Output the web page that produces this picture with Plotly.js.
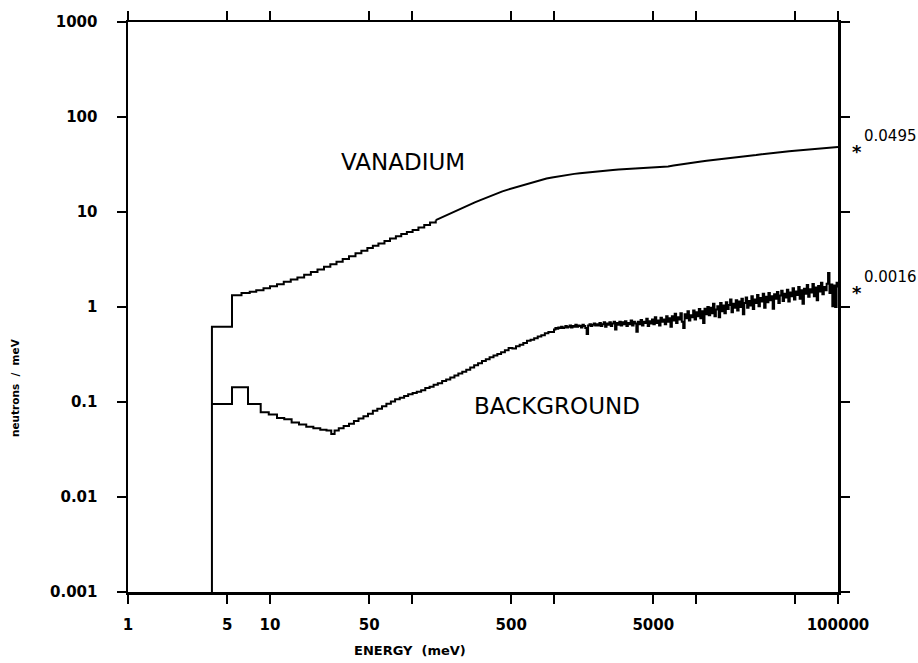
<!DOCTYPE html>
<html>
<head>
<meta charset="utf-8">
<script src="https://cdn.plot.ly/plotly-3.0.1.min.js"></script>
<style>html,body{margin:0;padding:0;background:#fff;}#chart{width:918px;height:663px;}</style>
</head>
<body>
<div id="chart"></div>
<script>
// ---- data (energy in meV, intensity in neutrons/meV) ----
const vanE = [3.9, 3.9, 5.4, 6.3, 7.2, 8.0, 9.0, 10.0, 11.2, 12.5, 14.0, 15.6, 17.4, 19.4, 21.6, 24.0, 26.6, 29.4, 32.5, 36, 40, 44, 48.5, 53, 58, 64, 70, 77, 84, 92, 101, 111, 122, 134, 147, 161, 176, 193, 211, 231, 253, 277, 303, 331, 362, 396, 433, 474, 518, 567, 620, 678, 741, 810, 886, 969, 1060, 1160, 1270, 1390, 1520, 1660, 1820, 1990, 2180, 2380, 2600, 2850, 3110, 3400, 3720, 4070, 4450, 4870, 5320, 5820, 6360, 6950, 7600, 8310, 9090, 9940, 10870, 11880, 12990, 14200, 15530, 16980, 18560, 20290, 22190, 24260, 26520, 29000, 31700, 34660, 37900, 41440, 45310, 49540, 54160, 59220, 64750, 70790, 77400, 84630, 92530, 100000];
const vanV = [0.0001, 0.62, 1.33, 1.40, 1.45, 1.50, 1.58, 1.65, 1.74, 1.84, 1.95, 2.05, 2.18, 2.33, 2.48, 2.65, 2.82, 3.0, 3.2, 3.42, 3.68, 3.92, 4.18, 4.42, 4.65, 4.95, 5.25, 5.55, 5.85, 6.15, 6.45, 6.85, 7.3, 7.75, 8.2, 8.75, 9.3, 9.9, 10.6, 11.3, 11.95, 12.65, 13.35, 14.1, 14.9, 15.7, 16.5, 17.2, 17.9, 18.7, 19.5, 20.3, 21.1, 21.8, 22.5, 23.1, 23.7, 24.3, 24.8, 25.2, 25.6, 26.0, 26.3, 26.7, 27.1, 27.4, 27.7, 28.0, 28.2, 28.5, 28.7, 28.9, 29.1, 29.3, 29.5, 29.8, 30.2, 30.8, 31.5, 32.2, 32.9, 33.5, 34.0, 34.6, 35.1, 35.6, 36.0, 36.5, 37.0, 37.6, 38.3, 39.0, 39.8, 40.6, 41.3, 41.9, 42.5, 43.0, 43.5, 44.0, 44.5, 45.0, 45.6, 46.2, 46.8, 47.3, 47.8, 48.2];

const bgLowE = [3.9, 5.4, 7.0, 8.6, 9.8, 11.2, 12.6, 14.2, 16.0, 18.0, 20.2, 22.6, 25.0, 27.0, 28.5, 30.5, 33, 36, 39, 42, 45.5, 49, 53, 57, 61.5, 66, 71, 76, 82, 88, 94, 101, 108, 116, 124, 133, 142, 152, 163, 174, 186, 199, 212, 226, 241, 257, 274, 292, 311, 331, 352, 375, 399, 424, 451, 479, 509, 540, 573, 608, 645, 684, 725, 768, 814, 862, 913];
const bgLowV = [0.095, 0.143, 0.095, 0.078, 0.074, 0.068, 0.066, 0.061, 0.058, 0.055, 0.053, 0.051, 0.050, 0.046, 0.050, 0.053, 0.056, 0.059, 0.063, 0.067, 0.071, 0.075, 0.081, 0.085, 0.090, 0.096, 0.101, 0.107, 0.111, 0.116, 0.121, 0.124, 0.128, 0.133, 0.140, 0.145, 0.152, 0.158, 0.166, 0.173, 0.181, 0.19, 0.199, 0.208, 0.219, 0.231, 0.244, 0.256, 0.27, 0.282, 0.296, 0.308, 0.321, 0.334, 0.35, 0.37, 0.365, 0.386, 0.40, 0.418, 0.44, 0.452, 0.47, 0.49, 0.505, 0.53, 0.545];

const bgHighE = [
  1000, 1023, 1047, 1072, 1096, 1122, 1148, 1175, 1202, 1230,
  1259, 1288, 1318, 1349, 1380, 1413, 1445, 1479, 1514, 1549,
  1585, 1622, 1660, 1698, 1738, 1778, 1820, 1862, 1905, 1950,
  1995, 2042, 2089, 2138, 2188, 2239, 2291, 2344, 2399, 2455,
  2512, 2570, 2630, 2692, 2754, 2818, 2884, 2951, 3020, 3090,
  3162, 3236, 3311, 3388, 3467, 3548, 3631, 3715, 3802, 3890,
  3981, 4074, 4169, 4266, 4365, 4467, 4571, 4677, 4786, 4898,
  5012, 5129, 5248, 5370, 5495, 5623, 5754, 5888, 6026, 6166,
  6310, 6457, 6607, 6761, 6918, 7079, 7244, 7413, 7586, 7762,
  7943, 8128, 8318, 8511, 8710, 8913, 9120, 9333, 9550, 9772,
  10000, 10230, 10470, 10720, 10960, 11220, 11480, 11750, 12020, 12300,
  12590, 12880, 13180, 13490, 13800, 14130, 14450, 14790, 15140, 15490,
  15850, 16220, 16600, 16980, 17380, 17780, 18200, 18620, 19050, 19500,
  19950, 20420, 20890, 21380, 21880, 22390, 22910, 23440, 23990, 24550,
  25120, 25700, 26300, 26920, 27540, 28180, 28840, 29510, 30200, 30900,
  31620, 32360, 33110, 33880, 34670, 35480, 36310, 37150, 38020, 38900,
  39810, 40740, 41690, 42660, 43650, 44670, 45710, 46770, 47860, 48980,
  50120, 51290, 52480, 53700, 54950, 56230, 57540, 58880, 60260, 61660,
  63100, 64570, 66070, 67610, 69180, 70790, 72440, 74130, 75860, 77620,
  79430, 81280, 83180, 85110, 87100, 89130, 91200, 93330, 95500, 97720,
  100000];
const bgHighV = [
  0.58, 0.60, 0.59, 0.61, 0.60, 0.62, 0.60, 0.61, 0.63, 0.61,
  0.62, 0.64, 0.61, 0.63, 0.62, 0.65, 0.62, 0.64, 0.63, 0.61,
  0.65, 0.63, 0.60, 0.52, 0.64, 0.66, 0.63, 0.65, 0.67, 0.64,
  0.66, 0.64, 0.68, 0.63, 0.66, 0.69, 0.62, 0.67, 0.65, 0.69,
  0.63, 0.67, 0.70, 0.58, 0.68, 0.65, 0.70, 0.64, 0.69, 0.66,
  0.71, 0.63, 0.68, 0.66, 0.72, 0.64, 0.70, 0.67, 0.55, 0.70,
  0.66, 0.73, 0.64, 0.70, 0.68, 0.75, 0.63, 0.71, 0.67, 0.74,
  0.66, 0.78, 0.68, 0.72, 0.64, 0.77, 0.70, 0.74, 0.66, 0.80,
  0.70, 0.76, 0.62, 0.80, 0.72, 0.85, 0.68, 0.78, 0.74, 0.86,
  0.70, 0.60, 0.84, 0.76, 0.90, 0.72, 0.82, 0.78, 0.92, 0.74,
  0.88, 0.80, 0.95, 0.76, 0.90, 0.68, 0.96, 0.84, 1.00, 0.82,
  0.98, 0.86, 1.08, 0.80, 0.94, 1.02, 0.78, 1.10, 0.90, 1.04,
  0.86, 1.12, 0.95, 1.05, 1.20, 0.88, 1.08, 0.98, 1.18, 0.92,
  1.14, 1.00, 1.22, 0.84, 1.10, 1.26, 0.98, 1.16, 1.04, 1.30,
  0.95, 1.20, 1.10, 1.34, 1.02, 1.24, 1.14, 1.38, 0.98, 1.28,
  1.12, 1.40, 1.18, 1.30, 0.96, 1.36, 1.22, 1.44, 1.10, 1.32,
  1.48, 1.16, 1.38, 1.26, 1.52, 1.14, 1.42, 1.30, 1.58, 1.20,
  1.46, 1.34, 1.62, 1.22, 1.50, 1.08, 1.56, 1.38, 1.70, 1.28,
  1.54, 1.42, 1.75, 1.30, 1.60, 1.18, 1.66, 1.46, 1.80, 1.36,
  1.62, 1.50, 1.76, 2.28, 1.40, 1.72, 1.02, 1.68, 1.00, 1.80,
  1.60];

const xTickVals = [1, 5, 10, 50, 100, 500, 1000, 5000, 10000, 50000, 100000];
const xTickText = ['1', '5', '10', '50', '', '500', '', '5000', '', '', '100000'];
const yTickVals = [0.001, 0.01, 0.1, 1, 10, 100, 1000];
const yTickText = ['0.001', '0.01', '0.1', '1', '10', '100', '1000'];
const curveLabels = ['VANADIUM', 'BACKGROUND'];
const scaleLabels = ['0.0495', '0.0016'];

const bgE = bgLowE.concat(bgHighE);
const bgV = bgLowV.concat(bgHighV);

// vanadium: histogram steps at low energy, smooth trace above
const split = vanE.findIndex(function (e) { return e >= 147; });
const traces = [
  {x: vanE.slice(0, split + 1), y: vanV.slice(0, split + 1), type: 'scatter', mode: 'lines',
   line: {color: '#000', width: 2, shape: 'hv'}, hoverinfo: 'skip'},
  {x: vanE.slice(split), y: vanV.slice(split), type: 'scatter', mode: 'lines',
   line: {color: '#000', width: 2, shape: 'linear'}, hoverinfo: 'skip'},
  {x: bgE, y: bgV, type: 'scatter', mode: 'lines',
   line: {color: '#000', width: 2, shape: 'hv'}, hoverinfo: 'skip'}
];

const tickFont = {family: 'DejaVu Sans', size: 15, color: '#000', weight: 'bold'};
const axisCommon = {
  type: 'log', showgrid: false, zeroline: false,
  showline: true, linecolor: '#000', linewidth: 2.5,
  mirror: 'ticks', ticks: 'outside', ticklen: 9, tickwidth: 2, tickcolor: '#000',
  tickfont: tickFont, tickmode: 'array'
};

const layout = {
  width: 918, height: 663,
  margin: {l: 128, r: 80, t: 22, b: 71},
  paper_bgcolor: '#fff', plot_bgcolor: '#fff',
  showlegend: false,
  xaxis: Object.assign({}, axisCommon, {
    range: [0, 5], tickvals: xTickVals, ticktext: xTickText, ticklabelstandoff: 8
  }),
  yaxis: Object.assign({}, axisCommon, {
    range: [-3, 3], tickvals: yTickVals, ticktext: yTickText, ticklabelstandoff: 16
  }),
  annotations: [
    {xref: 'paper', yref: 'paper', x: 0.387, y: 0.754, text: curveLabels[0], showarrow: false,
     font: {family: 'DejaVu Sans', size: 23, color: '#000'}, xanchor: 'center', yanchor: 'middle'},
    {xref: 'paper', yref: 'paper', x: 0.604, y: 0.326, text: curveLabels[1], showarrow: false,
     font: {family: 'DejaVu Sans', size: 23, color: '#000'}, xanchor: 'center', yanchor: 'middle'},
    {xref: 'paper', yref: 'paper', x: 1.027, y: 0.772, text: '*', showarrow: false,
     font: {family: 'DejaVu Sans', size: 18, color: '#000', weight: 'bold'}, xanchor: 'center', yanchor: 'middle'},
    {xref: 'paper', yref: 'paper', x: 1.034, y: 0.800, text: scaleLabels[0], showarrow: false,
     font: {family: 'DejaVu Sans', size: 15, color: '#000'}, xanchor: 'left', yanchor: 'middle'},
    {xref: 'paper', yref: 'paper', x: 1.027, y: 0.526, text: '*', showarrow: false,
     font: {family: 'DejaVu Sans', size: 18, color: '#000', weight: 'bold'}, xanchor: 'center', yanchor: 'middle'},
    {xref: 'paper', yref: 'paper', x: 1.034, y: 0.553, text: scaleLabels[1], showarrow: false,
     font: {family: 'DejaVu Sans', size: 15, color: '#000'}, xanchor: 'left', yanchor: 'middle'},
    {xref: 'paper', yref: 'paper', x: 0.397, y: -0.102, text: 'ENERGY  (meV)', showarrow: false,
     font: {family: 'DejaVu Sans', size: 13, color: '#000', weight: 'bold'}, xanchor: 'center', yanchor: 'middle'},
    {xref: 'paper', yref: 'paper', x: -0.159, y: 0.358, text: 'neutrons  /  meV', showarrow: false, textangle: -90,
     font: {family: 'DejaVu Sans', size: 10.5, color: '#000', weight: 'bold'}, xanchor: 'center', yanchor: 'middle'}
  ]
};

Plotly.newPlot('chart', traces, layout, {staticPlot: true, displayModeBar: false});
</script>
</body>
</html>
